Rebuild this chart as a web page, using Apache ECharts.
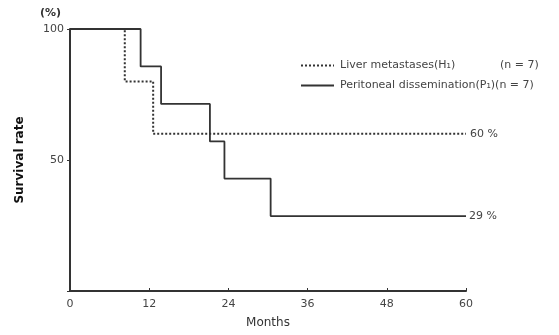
<!DOCTYPE html>
<html>
<head>
<meta charset="utf-8">
<script src="https://cdn.jsdelivr.net/npm/echarts@6/dist/echarts.min.js"></script>
<style>
  html, body { margin: 0; padding: 0; background: #fff; }
  #chart { width: 559px; height: 335px; }
</style>
</head>
<body>
<div id="chart"></div>
<script>
// survival data (months, %)
var liverMonths = [0, 8.3, 12.6, 60];
var liverRate = [100, 80, 60, 60];
var periMonths = [0, 10.7, 13.8, 21.2, 23.4, 30.4, 60];
var periRate = [100, 85.7, 71.4, 57.1, 42.9, 28.6, 28.6];
var yTicks = [50, 100];

var ink = '#333';
var font = '"DejaVu Sans", sans-serif';

function pairs(xs, ys) {
    return xs.map(function (x, i) { return [x, ys[i]]; });
}

var chart = echarts.init(document.getElementById('chart'));

chart.setOption({
    animation: false,
    textStyle: { fontFamily: font, color: ink },
    grid: { left: 70, right: 93, top: 29, bottom: 44 },
    legend: {
        orient: 'vertical',
        left: 295,
        top: 55,
        itemWidth: 33,
        itemHeight: 10,
        itemGap: 9,
        itemStyle: { opacity: 0 },
        textStyle: {
            fontSize: 11, color: '#444', padding: [0, 0, 0, 1],
            rich: {
                a: { width: 160, fontSize: 11, color: '#444', fontFamily: font },
                c: { fontSize: 11, color: '#444', fontFamily: font },
                b: { fontSize: 11, color: '#444', fontFamily: font }
            }
        },
        formatter: function (name) {
            if (name === 'Liver metastases(H₁)') {
                return '{a|' + name + '}{b|(n = 7)}';
            }
            return '{c|' + name + '}{b|(n = 7)}';
        },
        data: ['Liver metastases(H₁)', 'Peritoneal dissemination(P₁)']
    },
    xAxis: {
        type: 'value',
        min: 0,
        max: 60,
        interval: 12,
        name: 'Months',
        nameLocation: 'middle',
        nameGap: 26,
        nameTextStyle: { fontSize: 12, color: ink },
        axisLine: { lineStyle: { color: ink, width: 2 } },
        axisTick: { inside: true, length: 3, lineStyle: { color: ink } },
        axisLabel: { fontSize: 11, color: '#444', margin: 8 },
        splitLine: { show: false }
    },
    yAxis: {
        type: 'value',
        min: 0,
        max: 100,
        interval: 50,
        name: 'Survival rate',
        nameLocation: 'middle',
        nameGap: 44,
        nameTextStyle: { fontSize: 12, fontWeight: 'bold', color: '#111' },
        axisLine: { show: true, lineStyle: { color: ink, width: 2 } },
        axisTick: { show: true, length: 3, lineStyle: { color: ink } },
        axisLabel: {
            fontSize: 11, color: '#444', margin: 6,
            formatter: function (v) { return yTicks.indexOf(v) >= 0 ? v : ''; }
        },
        splitLine: { show: false }
    },
    graphic: [
        { type: 'text', left: 40, top: 8, style: { text: '(%)', font: 'bold 11px ' + font, fill: ink } }
    ],
    series: [
        {
            name: 'Liver metastases(H₁)',
            type: 'line',
            step: 'end',
            symbol: 'none',
            data: pairs(liverMonths, liverRate),
            lineStyle: { color: ink, width: 2, type: 'dotted' },
            itemStyle: { color: ink },
            endLabel: { show: true, formatter: '60 %', fontSize: 11, color: '#444', distance: 4 }
        },
        {
            name: 'Peritoneal dissemination(P₁)',
            type: 'line',
            step: 'end',
            symbol: 'none',
            data: pairs(periMonths, periRate),
            lineStyle: { color: ink, width: 1.8 },
            itemStyle: { color: ink },
            endLabel: { show: true, formatter: '29 %', fontSize: 11, color: '#444', distance: 3 }
        }
    ]
});
</script>
</body>
</html>
